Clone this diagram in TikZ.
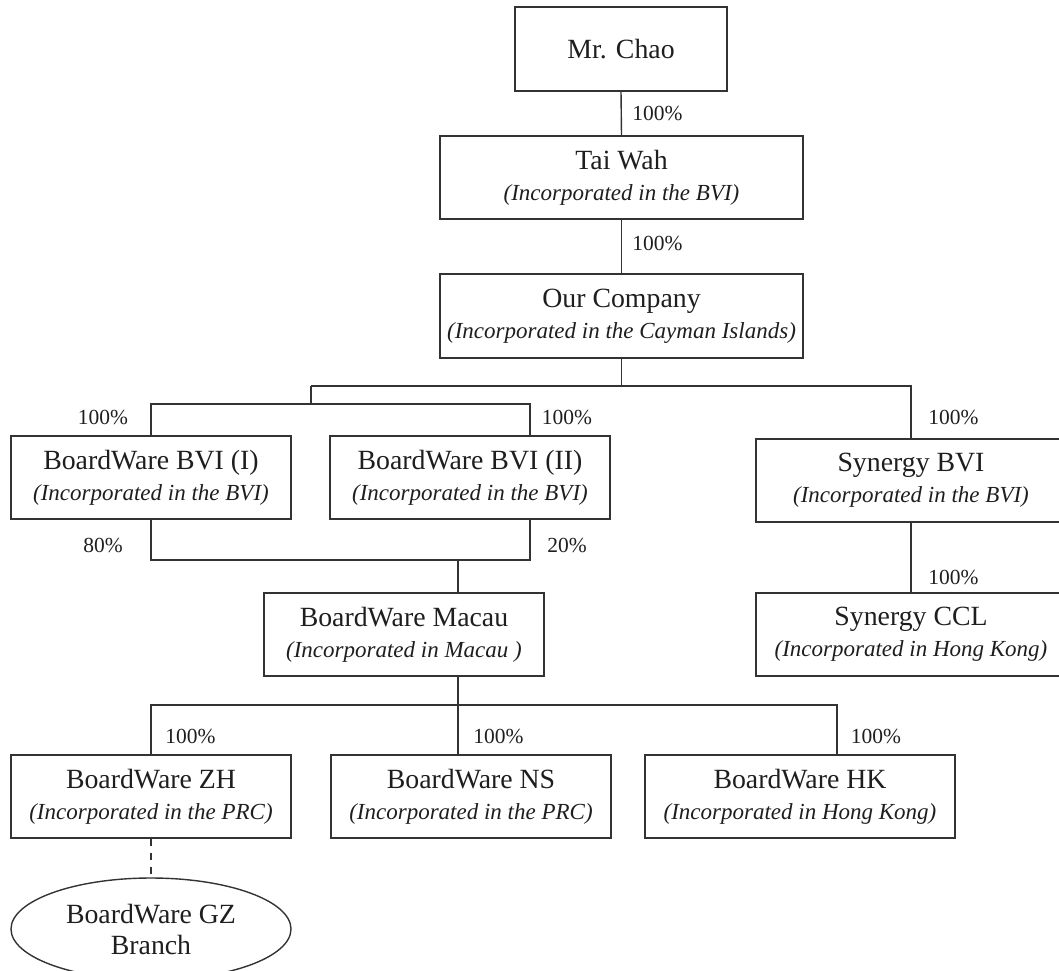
\documentclass[tikz,border=0pt]{standalone}
\usepackage{fontspec}
\setmainfont{Liberation Serif}
\usetikzlibrary{shapes.geometric,calc}
\definecolor{linec}{HTML}{333333}
\definecolor{textc}{HTML}{1E1E1E}
\newcommand\mainfs{\fontsize{27.8}{31}\selectfont}
\newcommand\subfs{\fontsize{23}{31}\selectfont\itshape}
\newcommand\pctfs{\fontsize{21.5}{24}\selectfont}
\tikzset{
  box/.style={draw=linec, line width=1.4pt, inner sep=0pt, align=center, font=\mainfs, text=textc, minimum height=83pt},
  oval/.style={ellipse, draw=linec, line width=1.4pt, inner sep=0pt, align=center, font=\mainfs, text=textc},
  pct/.style={font=\pctfs, text=textc, inner sep=0pt},
  conn/.style={draw=linec, line width=1.4pt},
  dconn/.style={draw=linec, line width=1.2pt, dash pattern=on 7pt off 7pt},
}
\begin{document}
\begin{tikzpicture}[x=1pt,y=-1pt]
\useasboundingbox (0,0) rectangle (1059,970);
% boxes
\node[box, minimum width=212pt, minimum height=84pt] (chao) at (621,49) {Mr. Chao};
\node[box, minimum width=363pt] (taiwah) at (621.5,177.5) {Tai Wah\\{\subfs (Incorporated in the BVI)}};
\node[box, minimum width=363pt, minimum height=84pt] (ourco) at (621.5,316) {Our Company\\{\subfs (Incorporated in the Cayman Islands)}};
\node[box, minimum width=280pt] (bvi1) at (151,477.5) {BoardWare BVI (I)\\{\subfs (Incorporated in the BVI)}};
\node[box, minimum width=280pt] (bvi2) at (470,477.5) {BoardWare BVI (II)\\{\subfs (Incorporated in the BVI)}};
\node[box, minimum width=310pt] (synbvi) at (911,480.5) {Synergy BVI\\{\subfs (Incorporated in the BVI)}};
\node[box, minimum width=310pt] (synccl) at (911,634.5) {Synergy CCL\\{\subfs (Incorporated in Hong Kong)}};
\node[box, minimum width=280pt] (macau) at (404,634.5) {BoardWare Macau\\{\subfs (Incorporated in Macau )}};
\node[box, minimum width=280pt] (zh) at (151,796.5) {BoardWare ZH\\{\subfs (Incorporated in the PRC)}};
\node[box, minimum width=280pt] (ns) at (471,796.5) {BoardWare NS\\{\subfs (Incorporated in the PRC)}};
\node[box, minimum width=310pt] (hk) at (800,796.5) {BoardWare HK\\{\subfs (Incorporated in Hong Kong)}};
\node[oval, minimum width=280pt, minimum height=102pt] (gz) at (151,929) {BoardWare GZ\\Branch};
% junctions
\coordinate (j1) at (311,386);
\coordinate (j2) at (311,404);
\coordinate (j4) at (458,560);
\coordinate (j5) at (458,705);
\coordinate (b2t) at ([xshift=60pt]bvi2.north);
\coordinate (b2b) at ([xshift=60pt]bvi2.south);
\coordinate (hkt) at ([xshift=37pt]hk.north);
% connectors
\draw[conn] (chao.south) -- (taiwah.north);
\draw[conn] (taiwah.south) -- (ourco.north);
\draw[conn] (ourco.south) -- (ourco.south |- j1);
\draw[conn] (j1) -| (synbvi.north);
\draw[conn] (j1) -- (j2);
\draw[conn] (bvi1.north) |- (j2) -| (b2t);
\draw[conn] (bvi1.south) |- (b2b |- j4) -- (b2b);
\draw[conn] (j4) -- (j4 |- macau.north);
\draw[conn] (synbvi.south) -- (synccl.north);
\draw[conn] (macau.south -| j5) -- (j5);
\draw[conn] (zh.north) |- (hkt |- j5) -- (hkt);
\draw[conn] (j5) -- (j5 |- ns.north);
\draw[dconn] (zh.south) -- (gz.north);
% percentages
\node[pct] (p1) at (657.5,113) {100\%};
\node[pct] (p2) at (657.5,243) {100\%};
\node[pct] (p3) at (103,417) {100\%};
\node[pct] (p4) at (567,417) {100\%};
\node[pct] (p5) at (953.5,417) {100\%};
\node[pct] (p6) at (103,545) {80\%};
\node[pct] (p7) at (567,545) {20\%};
\node[pct] (p8) at (953.5,577) {100\%};
\node[pct] (p9) at (190.5,736) {100\%};
\node[pct] (p10) at (498.5,736) {100\%};
\node[pct] (p11) at (876,736) {100\%};
\end{tikzpicture}
\end{document}
